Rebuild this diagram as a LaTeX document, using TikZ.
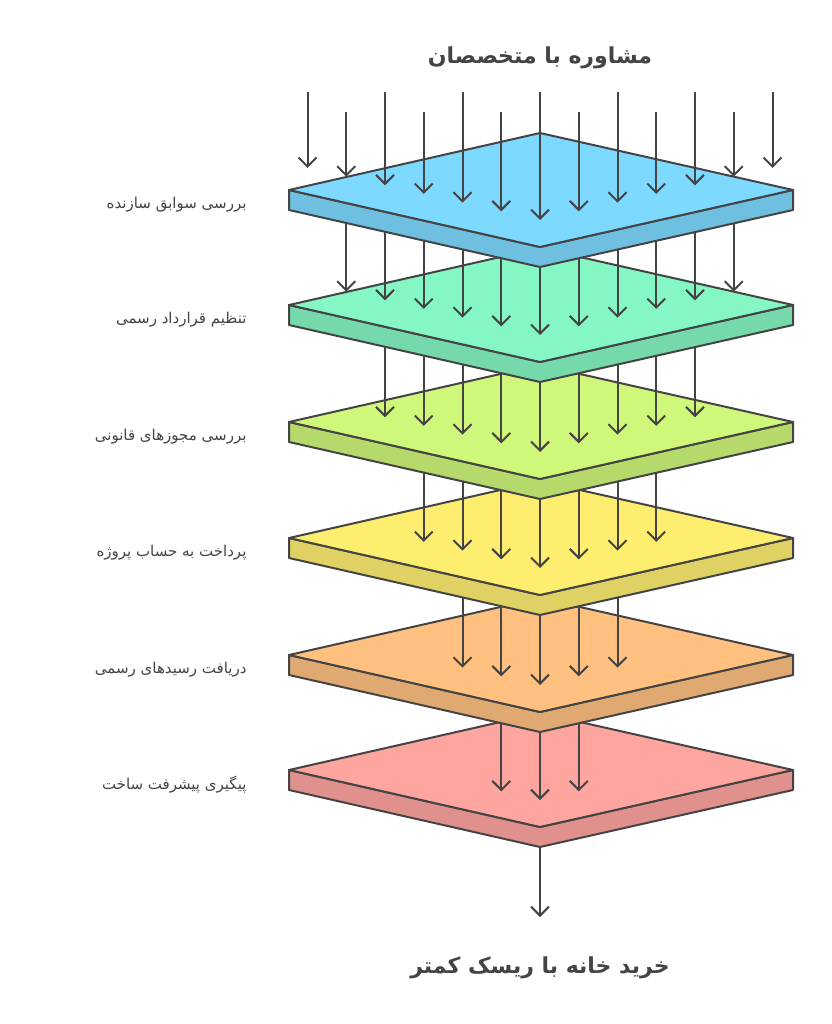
\documentclass[tikz,border=0pt]{standalone}
\usepackage{fontspec}
\setmainfont{DejaVu Sans}[Script=Arabic]
\usetikzlibrary{arrows.meta}
\TeXXeTstate=1
\definecolor{layA}{HTML}{7DD9FF}
\definecolor{layB}{HTML}{85F7C4}
\definecolor{layC}{HTML}{CFF77A}
\definecolor{layD}{HTML}{FDEE70}
\definecolor{layE}{HTML}{FFC080}
\definecolor{layF}{HTML}{FFA5A0}
\definecolor{ink}{HTML}{444444}
\newcommand\rtl[1]{\beginR #1\endR}
\newcommand\plate[2]{%
  \filldraw[#2!88!black,draw=ink,line width=2pt,line join=round]
    (289,#1) -- (540,{#1+57}) -- (793,#1) -- (793,{#1+20}) -- (540,{#1+77}) -- (289,{#1+20}) -- cycle;
  \filldraw[#2,draw=ink,line width=2pt,line join=round]
    (289,#1) -- (540,{#1-57}) -- (793,#1) -- (540,{#1+57}) -- cycle;
}
\begin{document}
\begin{tikzpicture}[x=1pt,y=-1pt,
  arr/.style={draw=ink,line width=2pt,-{Straight Barb[length=9pt,width=18pt,line width=2pt]}},
  lab/.style={anchor=east,text=ink,font=\fontsize{15}{18}\selectfont},
  title/.style={text=ink,font=\fontsize{22}{26}\selectfont\bfseries}]
  \useasboundingbox (0,0) rectangle (831,1024);
  % Title and result
  \node[title] (top) at (540,58) {\rtl{مشاوره با متخصصان}};
  \node[title] (bot) at (540,968) {\rtl{خرید خانه با ریسک کمتر}};
  % Plates, bottom first
  \foreach \c/\p/\n/\col/\lab in {770/655/1/layF/{پیگیری پیشرفت ساخت},
      655/538/2/layE/{دریافت رسیدهای رسمی},
      538/422/3/layD/{پرداخت به حساب پروژه},
      422/305/4/layC/{بررسی مجوزهای قانونی},
      305/190/5/layB/{تنظیم قرارداد رسمی},
      190/0/6/layA/{بررسی سوابق سازنده}}{
    \plate{\c}{\col}
    \foreach \j in {-\n,...,\n}{
      \pgfmathsetmacro\x{540+38.75*\j}
      \pgfmathsetmacro\d{abs(38.75*\j)}
      \pgfmathsetmacro\ye{\c+30-0.224*\d}
      \ifnum\p=0
        \pgfmathsetmacro\ys{mod(abs(\j),2)==1 ? 112 : 92}
      \else
        \pgfmathsetmacro\ys{\p+77-0.227*\d}
      \fi
      \coordinate (s) at (\x,\ys);
      \coordinate (e) at (\x,\ye);
      \draw[arr] (s) -- (e);
    }
    \node[lab] (l\col) at (250,\c+15) {\rtl{\lab}};
  }
  \coordinate (out) at (540,847);
  \coordinate (end) at (540,917);
  \draw[arr] (out) -- (end);
\end{tikzpicture}
\end{document}
